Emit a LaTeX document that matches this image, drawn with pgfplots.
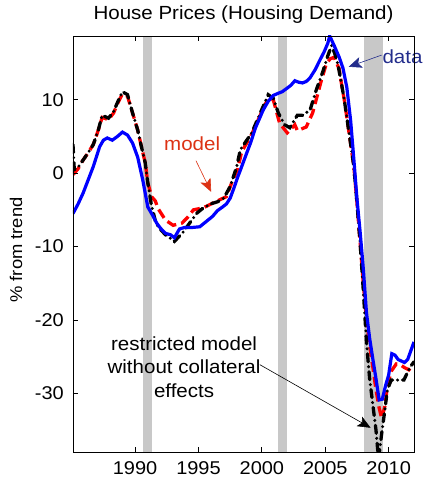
\documentclass[border=0pt]{standalone}
\usepackage{fontspec}
\setmainfont{Liberation Sans}[FakeStretch=1.08]
\setsansfont{Liberation Sans}[FakeStretch=1.08]
\renewcommand{\familydefault}{\sfdefault}
\usepackage{pgfplots}
\pgfplotsset{compat=1.18}
\usetikzlibrary{arrows.meta}
\definecolor{databl}{RGB}{35,45,140}
\definecolor{modelrd}{RGB}{220,50,20}
\definecolor{recess}{RGB}{200,200,200}
\newcommand{\myfs}{\sffamily\fontsize{19}{23.5}\selectfont}
\newcommand{\myft}{\sffamily\fontsize{18.5}{22}\selectfont}
\begin{document}
\sffamily
\begin{tikzpicture}
\begin{axis}[
  at={(0,0)}, anchor=south west,
  scale only axis, width=341pt, height=416pt,
  xmin=1985.1, xmax=2012, ymin=-38, ymax=18.7,
  xtick={1990,1995,2000,2005,2010},
  xticklabels={1990,1995,2000,2005,2010},
  ytick={-30,-20,-10,0,10},
  yticklabels={-30,-20,-10,0,10},
  xtick pos=both, ytick pos=both, tick align=inside,
  major tick length=5pt,
  tick label style={font=\myft, text=black},
  xticklabel style={anchor=base, yshift=-22pt, inner sep=0pt},
  yticklabel style={anchor=east, xshift=-9pt, inner sep=0pt},
  axis line style={line width=0.8pt},
  tick style={line width=0.8pt, black},
  title={House Prices (Housing Demand)},
  title style={font=\myfs, at={(0.5,1)}, anchor=base, yshift=10pt, inner sep=0pt},
  ylabel={\% from trend},
  ylabel style={font=\sffamily\fontsize{17}{20}\selectfont, at={([xshift=-57pt,yshift=-6pt]axis description cs:0,0.5)}, anchor=center, inner sep=0pt},
  clip mode=individual,
  axis on top,
]
% recession bars
\addplot[fill=recess, draw=none] coordinates {(1990.63,-38) (1991.33,-38) (1991.33,18.7) (1990.63,18.7)} -- cycle;
\addplot[fill=recess, draw=none] coordinates {(2001.27,-38) (2001.95,-38) (2001.95,18.7) (2001.27,18.7)} -- cycle;
\addplot[fill=recess, draw=none] coordinates {(2008.03,-38) (2009.55,-38) (2009.55,18.7) (2008.03,18.7)} -- cycle;
% model (red dashed)
\addplot[red, line width=3.3pt, dash pattern=on 10pt off 5pt] coordinates {
(1985.1,-0.2) (1985.5,0.6) (1985.9,1.8) (1986.3,2.8) (1986.7,3.9) (1987.1,5.9) (1987.4,7.6)
(1987.9,7.3) (1988.3,8.2) (1988.7,9.8) (1989.0,10.8) (1989.4,10.5) (1989.8,8.2) (1990.2,5.9)
(1990.5,3.6) (1990.8,1.4) (1991.0,-1.3) (1991.3,-3.2) (1991.6,-3.8) (1991.8,-4.8) (1992.4,-6.4)
(1993.0,-7.1) (1993.7,-6.8) (1994.1,-6.1) (1994.6,-5.0) (1995.4,-4.7) (1996.1,-4.1) (1996.7,-3.6)
(1997.2,-3.2) (1997.6,-1.4) (1998.1,0.6) (1998.4,2.9) (1999.2,5.3) (2000.1,8.8) (2000.5,10.2)
(2000.9,10.0) (2001.4,6.8) (2002.0,5.5) (2002.6,6.6) (2002.8,5.8) (2003.5,6.3) (2004.0,8.2)
(2004.7,12.7) (2005.1,15.0) (2005.4,15.6) (2005.7,15.8) (2006.1,14.2) (2006.25,12.5) (2006.5,10.0)
(2006.75,7.0) (2007.0,4.0) (2007.25,1.0) (2007.5,-4.0) (2007.75,-9.5) (2008.0,-15.0) (2008.25,-20.0)
(2008.5,-23.5) (2008.75,-26.4) (2009.0,-29.5) (2009.25,-32.0) (2009.45,-33.4) (2009.7,-31.8)
(2009.9,-29.1) (2010.2,-27.0) (2010.6,-26.0) (2011.0,-26.2) (2011.25,-26.5) (2011.6,-26.8)
(2011.8,-26.4) (2012.0,-26.0)
};
% restricted model (black dash-dot)
\addplot[black, line width=3.3pt, line cap=round, dash pattern=on 8pt off 5pt on 0pt off 5pt] coordinates {
(1985.1,3.9) (1985.2,0.5) (1985.5,0.8) (1985.9,1.8) (1986.3,2.8) (1986.7,3.9) (1987.1,5.9)
(1987.4,7.9) (1987.9,7.5) (1988.3,8.4) (1988.7,10.0) (1989.0,11.1) (1989.4,10.7) (1989.8,8.2)
(1990.2,5.9) (1990.5,3.6) (1990.8,1.4) (1991.0,-1.3) (1991.3,-4.5) (1991.6,-6.5) (1991.8,-7.3)
(1992.4,-8.4) (1993.1,-9.3) (1993.8,-8.0) (1994.3,-6.8) (1994.9,-5.4) (1995.4,-4.7) (1996.1,-4.1)
(1996.5,-3.9) (1997.0,-3.4) (1997.5,-1.8) (1998.0,0.8) (1998.3,3.2) (1999.2,5.5) (2000.1,9.1)
(2000.5,10.7) (2000.9,10.2) (2001.3,8.2) (2001.8,6.6) (2002.2,6.2) (2002.8,7.9) (2003.2,7.9)
(2003.8,8.6) (2004.3,11.4) (2004.8,13.8) (2005.2,16.0) (2005.5,17.4) (2005.75,16.3) (2006.0,14.8)
(2006.25,12.5) (2006.5,10.0) (2006.75,7.0) (2007.0,4.0) (2007.25,1.0) (2007.5,-4.0) (2007.75,-9.5)
(2008.0,-16.0) (2008.25,-23.0) (2008.5,-28.0) (2008.75,-31.5) (2009.0,-35.0) (2009.2,-39.0)
(2009.45,-35.5) (2009.7,-32.3) (2009.9,-29.5) (2010.2,-28.2) (2010.7,-28.2) (2011.2,-28.2)
(2011.5,-27.1) (2011.75,-26.3) (2012.0,-25.7)
};
% data (blue)
\addplot[blue, line width=3.2pt] coordinates {
(1985.1,-5.5) (1985.5,-4.2) (1985.9,-2.7) (1986.3,-0.9) (1986.7,0.9) (1987.2,3.6) (1987.5,4.5)
(1987.8,4.8) (1988.2,4.5) (1988.6,5.0) (1989.0,5.6) (1989.4,5.2) (1989.8,4.1) (1990.2,2.2)
(1990.6,-0.9) (1991.0,-4.6) (1991.4,-5.8) (1991.7,-6.8) (1992.0,-7.5) (1992.4,-8.2) (1992.8,-8.4)
(1993.1,-8.8) (1993.5,-7.6) (1993.9,-7.4) (1994.5,-7.4) (1995.1,-7.3) (1995.6,-6.6) (1996.1,-5.9)
(1996.5,-5.1) (1996.9,-4.6) (1997.2,-4.2) (1997.5,-3.4) (1997.8,-2.0) (1998.1,-0.5) (1998.3,0.4)
(1998.75,2.5) (1999.1,4.1) (1999.5,6.2) (2000.1,8.6) (2000.5,9.8) (2000.9,10.6) (2001.3,10.9)
(2001.6,11.1) (2002.0,11.6) (2002.3,12.0) (2002.6,12.6) (2002.9,12.4) (2003.2,12.3) (2003.5,12.5)
(2003.8,13.0) (2004.2,14.1) (2004.6,15.5) (2004.9,16.5) (2005.2,17.7) (2005.35,18.7) (2005.7,17.4)
(2006.1,15.8) (2006.4,14.3) (2006.7,11.7) (2007.0,7.2) (2007.25,2.0) (2007.5,-3.5) (2007.75,-8.0)
(2008.0,-13.0) (2008.25,-19.0) (2008.5,-22.5) (2008.75,-25.3) (2009.0,-28.0) (2009.25,-30.9)
(2009.5,-30.8) (2009.75,-29.0) (2010.0,-27.5) (2010.25,-24.6) (2010.5,-24.8) (2010.75,-25.4)
(2011.0,-25.6) (2011.25,-25.8) (2011.5,-25.4) (2011.75,-24.2) (2012.0,-23.0)
};
% annotations
\draw[databl, line width=0.6pt, -{Stealth[length=13pt,width=11pt,inset=3pt]}] (axis cs:2009.45,16.1) -- (axis cs:2006.85,14.5);
\node[databl, font=\myfs, anchor=west, inner sep=0pt] at (axis cs:2009.5,15.9) {data};
\draw[modelrd, line width=0.6pt, -{Stealth[length=13pt,width=11pt,inset=3pt]}] (axis cs:1994.8,1.7) -- (axis cs:1996.0,-2.55);
\node[modelrd, font=\myfs] at (axis cs:1994.5,4.0) {model};
\draw[black, line width=0.6pt, -{Stealth[length=13pt,width=11pt,inset=3pt]}] (axis cs:1999.84,-26.1) -- (axis cs:2008.58,-34.7);
\node[black, font=\myfs, align=center, inner sep=0pt] at (axis cs:1993.86,-26.4) {restricted model\\without collateral\\effects};
\end{axis}
\pgfresetboundingbox
\path (-73pt,-26pt) rectangle (351pt,452pt);
\end{tikzpicture}
\end{document}
